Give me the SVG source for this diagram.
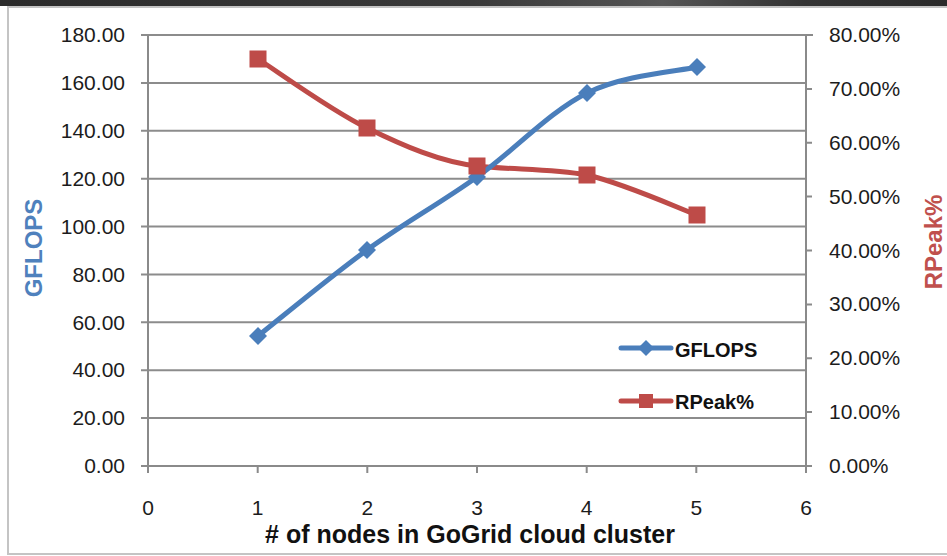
<svg xmlns="http://www.w3.org/2000/svg" width="947" height="556" viewBox="0 0 947 556">
<defs>
<linearGradient id="band" x1="0" y1="0" x2="1" y2="0">
<stop offset="0" stop-color="#2b2b2b"/><stop offset="0.5" stop-color="#3a3a3a"/><stop offset="0.7" stop-color="#555"/><stop offset="0.85" stop-color="#333"/><stop offset="1" stop-color="#2b2b2b"/>
</linearGradient>
<style>
.grid{stroke:#8c8c8c;stroke-width:2;fill:none}
.axis{stroke:#8a8a8a;stroke-width:2;fill:none}
.tl{font-family:"Liberation Sans",Arial,sans-serif;font-size:21px;fill:#1c1c1c}
.ttl{font-family:"Liberation Sans",Arial,sans-serif;font-weight:bold}
.gf{stroke:#4a7ebb;stroke-width:5;fill:none;stroke-linejoin:round;stroke-linecap:round}
.rp{stroke:#be4b48;stroke-width:5;fill:none;stroke-linejoin:round;stroke-linecap:round}
.dm{fill:#4a7ebb}
.sq{fill:#be4b48}
</style>
</defs>
<rect x="0" y="0" width="947" height="556" fill="#ffffff"/>
<rect x="0" y="0" width="947" height="6" fill="url(#band)"/>
<rect x="8" y="7" width="960" height="547" fill="none" stroke="#c4c4c4" stroke-width="2"/>

<g id="gridlines">
<line class="grid" x1="141" y1="35" x2="806" y2="35"/>
<line class="grid" x1="141" y1="82.9" x2="806" y2="82.9"/>
<line class="grid" x1="141" y1="130.8" x2="806" y2="130.8"/>
<line class="grid" x1="141" y1="178.7" x2="806" y2="178.7"/>
<line class="grid" x1="141" y1="226.6" x2="806" y2="226.6"/>
<line class="grid" x1="141" y1="274.4" x2="806" y2="274.4"/>
<line class="grid" x1="141" y1="322.3" x2="806" y2="322.3"/>
<line class="grid" x1="141" y1="370.2" x2="806" y2="370.2"/>
<line class="grid" x1="141" y1="418.1" x2="806" y2="418.1"/>
</g>

<g id="axes">
<line class="axis" x1="148" y1="35" x2="148" y2="466"/>
<line class="axis" x1="806" y1="35" x2="806" y2="473"/>
<line class="axis" x1="141" y1="466" x2="812" y2="466"/>
<path class="axis" d="M148 466V473M257.7 466V473M367.3 466V473M477 466V473M586.7 466V473M696.3 466V473"/>
<path class="axis" d="M806 35H813M806 88.9H812M806 142.75H812M806 196.6H812M806 250.5H812M806 304.4H812M806 358.25H812M806 412.1H812"/>
</g>

<g id="left-labels" class="tl" text-anchor="end">
<text x="125" y="42">180.00</text>
<text x="125" y="90">160.00</text>
<text x="125" y="138">140.00</text>
<text x="125" y="186">120.00</text>
<text x="125" y="234">100.00</text>
<text x="125" y="282">80.00</text>
<text x="125" y="330">60.00</text>
<text x="125" y="377">40.00</text>
<text x="125" y="425">20.00</text>
<text x="125" y="473">0.00</text>
</g>

<g id="right-labels" class="tl">
<text x="829" y="42">80.00%</text>
<text x="829" y="96">70.00%</text>
<text x="829" y="150">60.00%</text>
<text x="829" y="204">50.00%</text>
<text x="829" y="258">40.00%</text>
<text x="829" y="311">30.00%</text>
<text x="829" y="365">20.00%</text>
<text x="829" y="419">10.00%</text>
<text x="829" y="473">0.00%</text>
</g>

<g id="x-labels" class="tl" text-anchor="middle">
<text x="148" y="515">0</text>
<text x="257.7" y="515">1</text>
<text x="367.3" y="515">2</text>
<text x="477" y="515">3</text>
<text x="586.7" y="515">4</text>
<text x="696.3" y="515">5</text>
<text x="806" y="515">6</text>
</g>

<text id="x-title" class="ttl" x="470" y="543" font-size="25" fill="#111" text-anchor="middle">&#35; of nodes in GoGrid cloud cluster</text>
<text id="y-title" class="ttl" x="0" y="0" font-size="24" fill="#4f81bd" text-anchor="middle" transform="translate(42 248) rotate(-90)">GFLOPS</text>
<text id="y2-title" class="ttl" x="0" y="0" font-size="24" fill="#c0504d" text-anchor="middle" transform="translate(942 242) rotate(-90)">RPeak%</text>

<g id="series">
<path id="rpeak-line" class="rp" d="M258 59C276.2 70.5 330.5 110.2 367 128C403.5 145.8 440.3 162 477 166C513.7 170 550.3 168.5 587 175C623.7 183.2 678.7 208.3 697 215"/>
<path id="gflops-line" class="gf" d="M258 336C276.2 321.7 330.5 276.5 367 250C403.5 223.5 440.3 203.2 477 177C513.7 150.8 550.3 111.3 587 93C623.7 74.7 678.7 71.3 697 67"/>
<g id="gflops-markers" class="dm">
<polygon points="258,327 267,336 258,345 249,336"/>
<polygon points="367,241 376,250 367,259 358,250"/>
<polygon points="477,168 486,177 477,186 468,177"/>
<polygon points="587,84 596,93 587,102 578,93"/>
<polygon points="697,58 706,67 697,76 688,67"/>
</g>
<g id="rpeak-markers" class="sq">
<rect x="249.5" y="50.5" width="17" height="17"/>
<rect x="358.5" y="119.5" width="17" height="17"/>
<rect x="468.5" y="157.5" width="17" height="17"/>
<rect x="578.5" y="166.5" width="17" height="17"/>
<rect x="688.5" y="206.5" width="17" height="17"/>
</g>
</g>

<g id="legend">
<g id="legend-gflops">
<line class="gf" x1="621" y1="348" x2="671" y2="348"/>
<polygon class="dm" points="646,340 654,348 646,356 638,348"/>
<text class="ttl" x="675" y="357" font-size="20" fill="#111">GFLOPS</text>
</g>
<g id="legend-rpeak">
<line class="rp" x1="621" y1="401" x2="671" y2="401"/>
<rect class="sq" x="639" y="394" width="14" height="14"/>
<text class="ttl" x="675" y="409" font-size="20" fill="#111">RPeak%</text>
</g>
</g>
</svg>
